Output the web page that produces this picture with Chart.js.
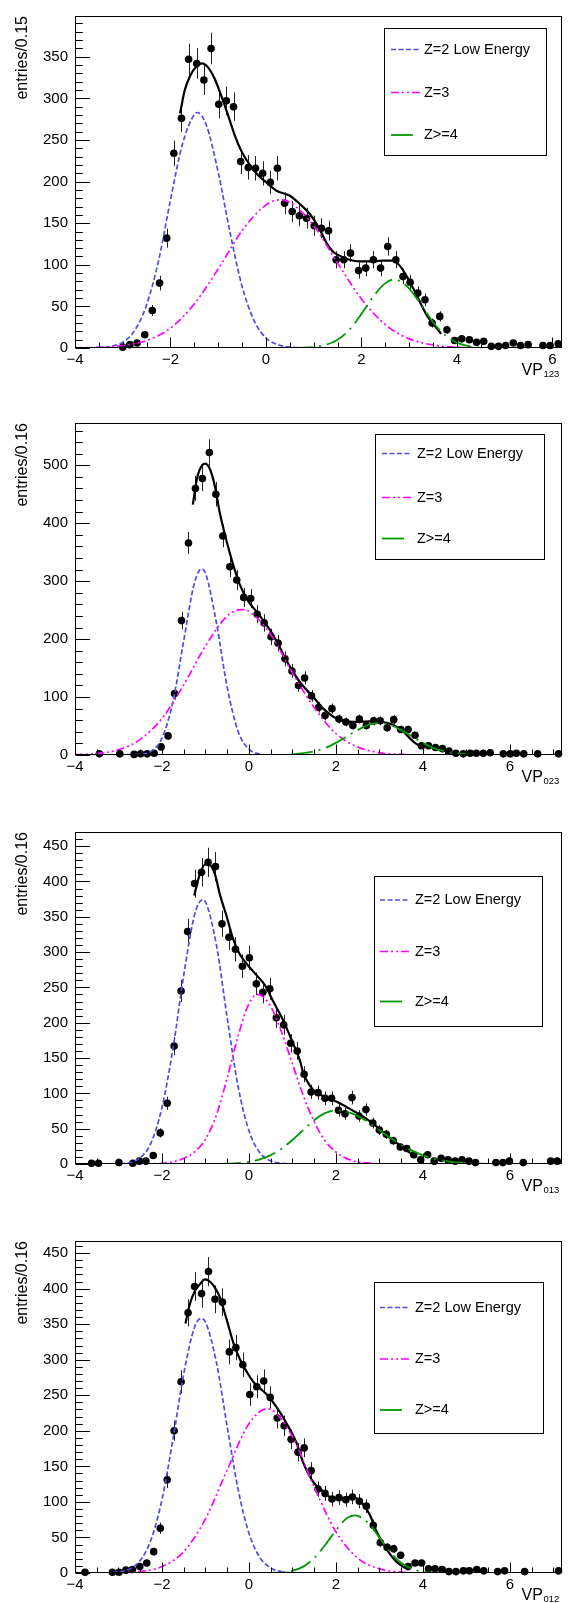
<!DOCTYPE html>
<html>
<head>
<meta charset="utf-8">
<script src="https://cdn.jsdelivr.net/npm/chart.js@4.4.1/dist/chart.umd.min.js"></script>
<style>
  html, body { margin: 0; padding: 0; background: #fff; }
  body { width: 570px; height: 1603px; position: relative; overflow: hidden; }
  .panel { position: absolute; left: 0; width: 570px; height: 379px; }
</style>
</head>
<body>
<div class="panel" style="top:0px"><canvas id="c1"></canvas></div>
<div class="panel" style="top:407px"><canvas id="c2"></canvas></div>
<div class="panel" style="top:816px"><canvas id="c3"></canvas></div>
<div class="panel" style="top:1225px"><canvas id="c4"></canvas></div>
<script>
// ---- panel 1 (VP_123) ----
const p1x = [-3.00,-2.85,-2.70,-2.54,-2.38,-2.23,-2.08,-1.93,-1.77,-1.62,-1.45,-1.30,-1.15,-0.99,-0.83,-0.68,-0.53,-0.37,-0.22,-0.07,0.09,0.24,0.39,0.55,0.70,0.85,1.01,1.16,1.31,1.47,1.63,1.77,1.94,2.09,2.25,2.40,2.55,2.72,2.87,3.02,3.18,3.33,3.48,3.64,3.79,3.95,4.10,4.26,4.41,4.56,4.72,4.87,5.02,5.18,5.33,5.49,5.80,5.95,6.12];
const p1y = [1,4,6,16,45,78,132,234,276,347,342,322,360,293,297,290,224,217,216,210,199,216,174,164,159,156,147,144,141,106,106,114,93,96,106,96,122,106,86,79,66,58,30,38,22,9,11,10,7,8,2,2,3,6,3,4,3,3,5];
const p1z2x = [-4,-3.5,-3.25,-3,-2.75,-2.5,-2.25,-2,-1.75,-1.5,-1.44,-1.25,-1,-0.75,-0.5,-0.25,0,0.25,0.5,1,6.2];
const p1z2y = [0,0.5,2,7,21,52,105,178,245,281,283,268,211,138,74,33,12,4,1,0,0];
const p1z3x = [-4,-3.5,-3,-2.5,-2,-1.5,-1,-0.5,0,0.29,0.5,1,1.5,2,2.5,3,3.5,4,4.5,5,6.2];
const p1z3y = [0.2,0.8,3,9,24,53,95,141,172,178,175,147,102,59,28,11,3.6,1,0.2,0,0];
const p1z4x = [-4,0.5,1,1.25,1.5,1.75,2,2.25,2.5,2.69,2.75,3,3.25,3.5,3.75,4,4.25,4.5,5,6.2];
const p1z4y = [0,0.1,1.2,3.8,10,22,41,62,78,82.5,82,71.5,52,31,15.5,6.4,2.2,0.6,0,0];
const p1fx = [-1.80,-1.70,-1.59,-1.45,-1.34,-1.21,-1.07,-0.93,-0.79,-0.65,-0.51,-0.34,-0.17,0.01,0.22,0.50,0.71,0.92,1.13,1.27,1.40,1.54,1.75,1.96,2.17,2.45,2.66,2.80,2.94,3.08,3.22,3.36,3.50,3.67];
const p1fy = [282,310,327,339,342,337,323,302,279,255,236,220,208,199,189,183,173,161,142,126,116,111,106,104,104,105,105,99,87,72,56,40,29,17];

// ---- panel 2 (VP_023) ----
const p2x = [-3.44,-2.97,-2.64,-2.49,-2.34,-2.18,-2.02,-1.86,-1.71,-1.55,-1.39,-1.23,-1.07,-0.91,-0.76,-0.60,-0.44,-0.28,-0.12,0.04,0.19,0.35,0.51,0.67,0.83,0.99,1.14,1.28,1.44,1.60,1.75,1.91,2.07,2.23,2.39,2.54,2.70,2.87,3.02,3.18,3.33,3.49,3.66,3.82,3.97,4.13,4.29,4.45,4.60,4.76,4.93,5.09,5.23,5.39,5.55,5.85,6.01,6.15,6.32,6.64,7.12];
const p2y = [2,2,1,2,2,3,14,33,106,232,366,460,477,522,450,378,325,302,272,270,243,228,204,193,166,145,120,133,102,82,68,80,62,57,51,62,51,59,59,47,61,44,44,34,16,16,13,11,7,3,2,3,3,3,4,2,2,3,2,2,2];
const p2z2x = [-4,-2.5,-2.25,-2,-1.75,-1.5,-1.25,-1.09,-1,-0.75,-0.5,-0.25,0,0.25,0.5,7.2];
const p2z2y = [0,1,6.5,29,91,197,298,321,314,229,117,41,10,1.8,0.2,0];
const p2z3x = [-4,-3.5,-3,-2.5,-2,-1.5,-1,-0.5,-0.17,0,0.5,1,1.5,2,2.5,3,3.5,4,7.2];
const p2z3y = [0.6,2.6,9,27,63,121,188,240,251,248,208,142,82,37,14,4,1,0.2,0];
const p2z4x = [-4,0.5,1,1.5,1.75,2,2.25,2.5,2.75,3,3.25,3.5,3.75,4,4.25,4.5,5,5.5,7.2];
const p2z4y = [0,0.1,1.2,6.3,12,21,32,43,52,55,52,43,32,21,12,6.3,1.2,0.1,0];
const p2fx = [-1.29,-1.20,-1.13,-1.01,-0.90,-0.78,-0.67,-0.51,-0.36,-0.21,-0.02,0.18,0.41,0.64,0.87,1.17,1.48,1.71,1.94,2.17,2.47,2.78,3.08,3.31,3.54,3.77,3.97];
const p2fy = [432,475,493,503,494,463,418,368,328,294,266,247,224,196,162,126,100,80,66,59,57,58,57,52,41,24,13];

// ---- panel 3 (VP_013) ----
const p3x = [-3.62,-3.46,-2.99,-2.67,-2.52,-2.37,-2.20,-2.04,-1.88,-1.72,-1.56,-1.41,-1.25,-1.09,-0.94,-0.77,-0.62,-0.46,-0.31,-0.15,0.01,0.17,0.32,0.48,0.63,0.80,0.96,1.11,1.27,1.43,1.59,1.75,1.90,2.06,2.21,2.37,2.53,2.69,2.85,3.00,3.16,3.32,3.48,3.63,3.79,3.95,4.11,4.26,4.42,4.58,4.74,4.90,5.06,5.21,5.68,5.84,5.99,6.31,6.94,7.09];
const p3y = [1,1,2,1,4,4,12,44,86,167,245,329,397,413,427,421,340,321,304,280,292,255,243,248,207,197,171,160,127,102,101,93,93,76,71,94,68,77,58,48,42,33,24,22,13,6,13,4,8,6,4,6,4,2,2,2,4,2,4,4];
const p3z2x = [-4,-3,-2.5,-2.25,-2,-1.75,-1.5,-1.25,-1.07,-1,-0.75,-0.5,-0.25,0,0.25,0.5,0.75,1,7.2];
const p3z2y = [0,0.4,9,30,80,162,267,353,374,371,311,207,110,47,16,4.3,0.9,0,0];
const p3z3x = [-4,-2.5,-2,-1.75,-1.5,-1.25,-1,-0.75,-0.5,-0.25,0,0.2,0.5,0.75,1,1.25,1.5,1.75,2,2.25,2.5,3,3.5,7.2];
const p3z3y = [0,0,1,3,8,17,35,69,122,181,227,240,223,187,142,97,60,33,17,7.6,3.1,0.4,0,0];
const p3z4x = [-4,-1,-0.5,0,0.25,0.5,0.75,1,1.25,1.5,1.75,2,2.25,2.5,2.75,3,3.25,3.5,3.75,4,4.5,5,5.5,7.2];
const p3z4y = [0,0.1,0.5,3.1,6.5,12.5,21.7,34,48,62,72,76,74,68,59,48,37,27,19,12.4,4.5,1.3,0.3,0];
const p3fx = [-1.26,-1.13,-1.01,-0.90,-0.78,-0.67,-0.51,-0.36,-0.21,-0.02,0.18,0.37,0.56,0.79,1.02,1.17,1.25,1.40,1.55,1.79,2.02,2.32,2.63,2.94,3.24,3.55,3.85];
const p3fy = [380,410,424,423,410,382,350,318,297,281,267,253,230,203,170,147,129,111,101,94,88,78,67,53,37,23,9];

// ---- panel 4 (VP_012) ----
const p4x = [-3.77,-3.14,-2.99,-2.83,-2.68,-2.51,-2.35,-2.19,-2.04,-1.88,-1.72,-1.56,-1.40,-1.25,-1.09,-0.93,-0.78,-0.61,-0.45,-0.30,-0.14,0.02,0.18,0.34,0.49,0.65,0.81,0.97,1.13,1.27,1.43,1.59,1.75,1.91,2.07,2.23,2.38,2.54,2.70,2.86,3.02,3.18,3.33,3.49,3.66,3.82,3.97,4.13,4.28,4.44,4.60,4.76,4.93,5.07,5.24,5.40,5.72,5.88,6.34,7.12];
const p4y = [1,1,1,4,5,9,14,30,63,131,200,269,366,403,393,424,385,381,311,317,293,251,262,270,247,218,207,188,170,176,144,118,112,104,106,103,107,101,94,67,43,36,34,25,9,14,14,6,6,5,2,2,3,3,5,3,2,3,2,3];
const p4z2x = [-4,-3.5,-3,-2.75,-2.5,-2.25,-2,-1.75,-1.5,-1.25,-1.1,-1,-0.75,-0.5,-0.25,0,0.25,0.5,0.75,1,7.2];
const p4z2y = [0,0.05,1.4,5.4,17.6,47,103,187,280,346,358,353,297,206,118,56,22,7,1.8,0.4,0];
const p4z3x = [-4,-3,-2.5,-2,-1.5,-1,-0.5,0,0.42,1,1.5,2,2.5,3,3.5,4,7.2];
const p4z3y = [0,0.4,2,9,30,76,145,210,231,192,121,58,21,5.8,1.2,0.2,0];
const p4z4x = [-4,0.5,1,1.25,1.5,1.75,2,2.25,2.44,2.75,3,3.25,3.5,3.75,4,4.5,7.2];
const p4z4y = [0,0.25,3.3,9,21,39,60,77,81,70,50,29.5,14.3,5.8,1.9,0.1,0];
const p4fx = [-1.46,-1.36,-1.24,-1.13,-1.01,-0.90,-0.78,-0.67,-0.51,-0.36,-0.21,-0.05,0.10,0.25,0.41,0.64,0.87,1.10,1.25,1.48,1.63,1.86,2.09,2.32,2.48,2.63,2.78,2.93,3.09,3.24,3.39,3.59];
const p4fy = [351,378,397,406,413,410,401,388,356,324,301,283,269,260,251,233,210,182,155,128,119,107,105,107,105,96,82,59,41,27,16,7];

// ---- axes ----
const xTicks = [-4, -2, 0, 2, 4, 6];
const yTicks1 = [0, 50, 100, 150, 200, 250, 300, 350];
const yTicks2 = [0, 100, 200, 300, 400, 500];
const yTicks3 = [0, 50, 100, 150, 200, 250, 300, 350, 400, 450];
const yTicks4 = [0, 50, 100, 150, 200, 250, 300, 350, 400, 450];
const seriesNames = ['Z=2 Low Energy', 'Z=3', 'Z>=4'];

const FONT = "'Liberation Sans', Arial, Helvetica, sans-serif";
Chart.defaults.font.family = FONT;
Chart.defaults.color = '#000';

const xy = (xs, ys) => xs.map((x, i) => ({ x: x, y: ys[i] }));
const fmt = v => (v < 0 ? '\u2212' + Math.abs(v) : String(v));

// ROOT-like look: error bars, inside ticks, frame, boxed legend, subscripted x title
const rootStyle = {
    id: 'rootStyle',
    beforeDatasetsDraw(chart) {
        const { ctx, chartArea: a, scales: { y } } = chart;
        const meta = chart.getDatasetMeta(0);
        const pts = chart.data.datasets[0].data;
        ctx.save();
        ctx.beginPath();
        ctx.rect(a.left, a.top, a.right - a.left, a.bottom - a.top);
        ctx.clip();
        ctx.strokeStyle = '#222';
        ctx.lineWidth = 1;
        ctx.beginPath();
        meta.data.forEach((el, i) => {
            const v = pts[i].y;
            const e = Math.sqrt(v);
            const px = Math.round(el.x) + 0.5;
            ctx.moveTo(px, y.getPixelForValue(v + e));
            ctx.lineTo(px, y.getPixelForValue(v - e));
        });
        ctx.stroke();
        ctx.restore();
    },
    afterDraw(chart, args, o) {
        const { ctx, chartArea: a, scales: { x, y } } = chart;
        ctx.save();
        ctx.strokeStyle = '#000';
        ctx.lineWidth = 1;

        // frame
        const L = Math.round(a.left) + 0.5, R = Math.round(a.right) - 0.5;
        const T = Math.round(a.top) + 0.5, B = Math.round(a.bottom) - 0.5;
        ctx.strokeRect(L, T, R - L, B - T);

        // ticks, pointing inward
        ctx.beginPath();
        for (let k = Math.ceil(x.min / o.xMinor - 1e-9); k * o.xMinor <= x.max + 1e-9; k++) {
            const v = k * o.xMinor;
            const major = Math.abs(v / o.xMajor - Math.round(v / o.xMajor)) < 1e-6;
            const px = Math.round(x.getPixelForValue(v)) + 0.5;
            ctx.moveTo(px, B);
            ctx.lineTo(px, B - (major ? 10 : 5));
        }
        for (let k = 0; k * o.yMinor <= y.max + 1e-9; k++) {
            const v = k * o.yMinor;
            const major = Math.abs(v / o.yMajor - Math.round(v / o.yMajor)) < 1e-6;
            const py = Math.round(y.getPixelForValue(v)) + 0.5;
            ctx.moveTo(L, py);
            ctx.lineTo(L + (major ? 14.6 : 7.3), py);
        }
        ctx.stroke();

        // legend
        const lg = o.legend;
        ctx.fillStyle = '#fff';
        ctx.fillRect(lg.x0, lg.y0, lg.x1 - lg.x0, lg.y1 - lg.y0);
        ctx.strokeRect(Math.round(lg.x0) + 0.5, Math.round(lg.y0) + 0.5, Math.round(lg.x1 - lg.x0), Math.round(lg.y1 - lg.y0));
        chart.data.datasets.slice(2).forEach((ds, i) => {
            const yy = lg.rows[i];
            // the long-dash style only shows its first stroke in the short sample
            const sx1 = i === 2 ? lg.sx0 + 22 : lg.sx1;
            ctx.save();
            ctx.setLineDash(ds.borderDash || []);
            ctx.strokeStyle = ds.borderColor;
            ctx.lineWidth = ds.borderWidth;
            ctx.beginPath();
            ctx.moveTo(lg.sx0, yy);
            ctx.lineTo(sx1, yy);
            ctx.stroke();
            ctx.restore();
            ctx.fillStyle = '#000';
            ctx.font = '14.5px ' + FONT;
            ctx.textBaseline = 'middle';
            ctx.textAlign = 'left';
            ctx.fillText(ds.label, lg.tx, yy);
        });

        // x title "VP" with subscript
        ctx.fillStyle = '#000';
        ctx.textBaseline = 'alphabetic';
        ctx.textAlign = 'left';
        ctx.font = '16px ' + FONT;
        ctx.fillText('VP', 521.5, a.bottom + 27);
        ctx.font = '9.5px ' + FONT;
        ctx.fillText(o.sub, 543.5, a.bottom + 29);
        ctx.restore();
    }
};

function makePanel(id, p) {
    const lineDs = (label, xs, ys, color, width, dash, order) => ({
        label: label,
        data: xy(xs, ys),
        showLine: true,
        borderColor: color,
        borderWidth: width,
        borderDash: dash,
        pointRadius: 0,
        pointHoverRadius: 0,
        cubicInterpolationMode: 'monotone',
        order: order
    });

    new Chart(document.getElementById(id), {
        type: 'scatter',
        data: {
            datasets: [
                {
                    label: 'data',
                    data: xy(p.px, p.py),
                    showLine: false,
                    pointRadius: 3.8,
                    pointHoverRadius: 3.8,
                    pointBackgroundColor: '#000',
                    pointBorderWidth: 0,
                    clip: false,
                    order: 5
                },
                lineDs('fit', p.fx, p.fy, '#000', 2.2, [], 4),
                lineDs(seriesNames[0], p.z2x, p.z2y, '#4d4de6', 1.7, [5, 2.5], 3),
                lineDs(seriesNames[1], p.z3x, p.z3y, '#ff00ff', 1.7, [8, 3, 2, 3, 2, 3], 2),
                lineDs(seriesNames[2], p.z4x, p.z4y, '#009a00', 1.8, [22, 6, 2, 6], 1)
            ]
        },
        options: {
            responsive: true,
            maintainAspectRatio: false,
            animation: false,
            events: [],
            layout: { padding: { top: 7, right: 8, left: 0, bottom: 0 } },
            plugins: {
                legend: { display: false },
                tooltip: { enabled: false },
                rootStyle: {
                    xMajor: 2, xMinor: 0.5,
                    yMajor: p.yMajor, yMinor: p.yMinor,
                    sub: p.sub,
                    legend: p.legend
                }
            },
            scales: {
                x: {
                    type: 'linear',
                    min: -4,
                    max: p.xMax,
                    grid: { display: false, drawTicks: false },
                    border: { display: false },
                    afterFit: s => { s.height = 31; },
                    afterBuildTicks: s => { s.ticks = xTicks.map(v => ({ value: v })); },
                    ticks: {
                        autoSkip: false,
                        maxRotation: 0,
                        padding: 3,
                        font: { size: 15 },
                        callback: v => fmt(v)
                    }
                },
                y: {
                    type: 'linear',
                    min: 0,
                    max: p.yMax,
                    grid: { display: false, drawTicks: false },
                    border: { display: false },
                    afterFit: s => { s.width = 75; },
                    afterBuildTicks: s => { s.ticks = p.yTicks.map(v => ({ value: v })); },
                    ticks: {
                        autoSkip: false,
                        padding: 7,
                        font: { size: 15 },
                        callback: v => fmt(v)
                    },
                    title: {
                        display: true,
                        text: p.yTitle,
                        align: 'end',
                        padding: { top: 13, bottom: 0 },
                        font: { size: 16 }
                    }
                }
            }
        },
        plugins: [rootStyle]
    });
}

makePanel('c1', {
    px: p1x, py: p1y, fx: p1fx, fy: p1fy,
    z2x: p1z2x, z2y: p1z2y, z3x: p1z3x, z3y: p1z3y, z4x: p1z4x, z4y: p1z4y,
    xMax: 6.2, yMax: 399, yTicks: yTicks1, yMajor: 50, yMinor: 10,
    yTitle: 'entries/0.15', sub: '123',
    legend: { x0: 384, y0: 28, x1: 546, y1: 155, rows: [49.5, 92.5, 135], sx0: 391, sx1: 420, tx: 424 }
});
makePanel('c2', {
    px: p2x, py: p2y, fx: p2fx, fy: p2fy,
    z2x: p2z2x, z2y: p2z2y, z3x: p2z3x, z3y: p2z3y, z4x: p2z4x, z4y: p2z4y,
    xMax: 7.2, yMax: 573, yTicks: yTicks2, yMajor: 100, yMinor: 20,
    yTitle: 'entries/0.16', sub: '023',
    legend: { x0: 375, y0: 27, x1: 544, y1: 152, rows: [46.5, 90.5, 131.5], sx0: 382, sx1: 412, tx: 417 }
});
makePanel('c3', {
    px: p3x, py: p3y, fx: p3fx, fy: p3fy,
    z2x: p3z2x, z2y: p3z2y, z3x: p3z3x, z3y: p3z3y, z4x: p3z4x, z4y: p3z4y,
    xMax: 7.2, yMax: 470, yTicks: yTicks3, yMajor: 50, yMinor: 10,
    yTitle: 'entries/0.16', sub: '013',
    legend: { x0: 374, y0: 60, x1: 542, y1: 210, rows: [84, 135.5, 185.5], sx0: 380, sx1: 410, tx: 415 }
});
makePanel('c4', {
    px: p4x, py: p4y, fx: p4fx, fy: p4fy,
    z2x: p4z2x, z2y: p4z2y, z3x: p4z3x, z3y: p4z3y, z4x: p4z4x, z4y: p4z4y,
    xMax: 7.2, yMax: 467, yTicks: yTicks4, yMajor: 50, yMinor: 10,
    yTitle: 'entries/0.16', sub: '012',
    legend: { x0: 374, y0: 57, x1: 543, y1: 208, rows: [82.5, 134, 185], sx0: 380, sx1: 410, tx: 415 }
});
</script>
</body>
</html>
